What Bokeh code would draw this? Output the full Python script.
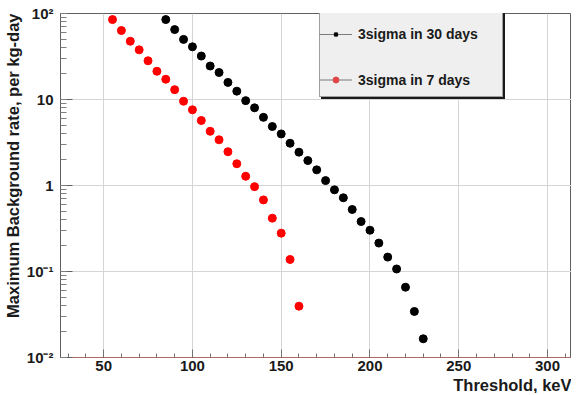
from bokeh.plotting import figure
from bokeh.models import (Range1d, SingleIntervalTicker, LogTicker, Title,
                          Legend, LegendItem, ColumnDataSource)
from bokeh.embed import file_html
from bokeh.resources import INLINE

# ---- data ----
thr_30 = [85, 90, 95, 100, 105, 110, 115, 120, 125, 130, 135, 140, 145, 150, 155,
          160, 165, 170, 175, 180, 185, 190, 195, 200, 205, 210, 215, 220, 225, 230]
rate_30 = [85, 65, 50, 41, 32, 24.5, 20.6, 15.8, 12.5, 9.7, 8.0, 6.2, 4.85, 3.98, 3.1,
           2.44, 1.95, 1.52, 1.14, 0.89, 0.72, 0.526, 0.381, 0.302, 0.214, 0.147,
           0.107, 0.0657, 0.0343, 0.0165]
thr_7 = [55, 60, 65, 70, 75, 80, 85, 90, 95, 100, 105, 110, 115, 120, 125, 130,
         135, 140, 145, 150, 155, 160]
rate_7 = [85, 63.4, 47.6, 37.8, 28.2, 21.3, 17.2, 13.0, 9.55, 7.59, 5.7, 4.27, 3.4,
          2.47, 1.79, 1.28, 0.97, 0.68, 0.417, 0.279, 0.138, 0.0395]
label_30 = "3sigma in 30 days"
label_7 = "3sigma in 7 days"
x_label = "Threshold, keV"
y_label = "Maximum Background rate, per kg-day"
y_tick_labels = {0.01: "10\u207b\u00b2", 0.1: "10\u207b\u00b9", 1.0: "1", 10.0: "10", 100.0: "10\u00b2"}

FONT = "Liberation Sans"
FW, FH = 511, 344

p = figure(output_backend="svg", toolbar_location=None,
           frame_width=FW, frame_height=FH,
           min_border_left=54, min_border_top=13, min_border_right=0, min_border_bottom=0,
           x_range=Range1d(25.7, 313.5), y_range=Range1d(0.01, 100),
           y_axis_type="log")
p.extra_x_ranges = {"offscreen": Range1d(1e6, 2e6)}
p.background_fill_color = "white"
p.border_fill_color = "white"
p.outline_line_color = "#606060"
p.outline_line_width = 1

p.xgrid.grid_line_color = "#d4d4d4"
p.ygrid.grid_line_color = "#d4d4d4"

# x axis
xa = p.xaxis[0]
xa.ticker = SingleIntervalTicker(interval=50, num_minor_ticks=5)
xa.axis_line_color = "#b06868"
xa.major_tick_in = 8
xa.major_tick_out = 0
xa.minor_tick_in = 4
xa.minor_tick_out = 0
xa.major_tick_line_color = "#707070"
xa.minor_tick_line_color = "#707070"
xa.major_label_standoff = 3
xa.major_label_text_font = FONT
xa.major_label_text_font_style = "bold"
xa.major_label_text_font_size = "15px"
xa.major_label_text_color = "#1a1a1a"

xt = Title(text=x_label, align="right", text_font=FONT, text_font_style="bold",
           text_font_size="16.5px", text_color="#1a1a1a", standoff=0, offset=0)
p.add_layout(xt, "below")

# y axis
ya = p.yaxis[0]
ya.ticker = LogTicker(num_minor_ticks=10)
ya.axis_line_color = "#606060"
ya.major_tick_in = 12
ya.major_tick_out = 0
ya.minor_tick_in = 6
ya.minor_tick_out = 0
ya.major_tick_line_color = "#606060"
ya.minor_tick_line_color = "#808080"
ya.major_label_standoff = 7
ya.major_label_overrides = y_tick_labels
ya.major_label_text_font = FONT
ya.major_label_text_font_style = "bold"
ya.major_label_text_font_size = "15px"
ya.major_label_text_color = "#1a1a1a"

yt = Title(text=y_label, align="right", text_font=FONT, text_font_style="bold",
           text_font_size="16.5px", text_color="#1a1a1a", standoff=3, offset=0)
p.add_layout(yt, "left")

# data points
p.scatter(thr_30, rate_30, size=8, color="black", line_color="black")
p.scatter(thr_7, rate_7, size=8, color="#ff0000", line_color="#ff0000")

# legend-only renderers: same data, mapped to an x range far off the visible frame
src30 = ColumnDataSource(dict(x=thr_30, y=rate_30))
src7 = ColumnDataSource(dict(x=thr_7, y=rate_7))
l30 = p.line(x="x", y="y", source=src30, x_range_name="offscreen",
             line_color="#7a7a7a", line_width=1)
m30 = p.scatter(x="x", y="y", source=src30, x_range_name="offscreen",
                marker="square", color="black")
l7 = p.line(x="x", y="y", source=src7, x_range_name="offscreen",
            line_color="#7a7a7a", line_width=1)
m7 = p.scatter(x="x", y="y", source=src7, x_range_name="offscreen",
               color="#e04848", line_color="#e04848")
blank = p.line(x="x", y="y", source=src7, x_range_name="offscreen", line_alpha=0)

PAD, ROW, GAP, GW = 6, 29, 14, 33
LH = 2 * PAD + 2 * ROW + GAP
LX = 259

common = dict(orientation="vertical", padding=PAD, spacing=GAP, glyph_width=GW,
              label_height=ROW, label_width=131, label_standoff=6, margin=0,
              label_text_font=FONT, label_text_font_style="bold",
              label_text_font_size="14px", label_text_color="#1a1a1a")

def box_legend(loc, fill, border):
    items = [LegendItem(label=" ", renderers=[blank]), LegendItem(label=" ", renderers=[blank])]
    return Legend(items=items, location=loc, background_fill_color=fill,
                  background_fill_alpha=1.0, border_line_color=border,
                  border_line_width=1, glyph_height=ROW, **common)

# shadow, then box
p.add_layout(box_legend((LX + 2, FH - LH - 2), "#1a1a1a", "#1a1a1a"), "center")
p.add_layout(box_legend((LX, FH - LH), "#efefef", "#505050"), "center")

# entries (transparent), each with its own marker size (marker = 0.4 * glyph_height)
e30 = Legend(items=[LegendItem(label=label_30, renderers=[l30, m30])],
             location=(LX, FH - (2 * PAD + ROW) + 6), background_fill_alpha=0,
             border_line_color=None, glyph_height=8, **common)
e7 = Legend(items=[LegendItem(label=label_7, renderers=[l7, m7])],
            location=(LX, FH - LH + 3), background_fill_alpha=0,
            border_line_color=None, glyph_height=15, **common)
p.add_layout(e30, "center")
p.add_layout(e7, "center")

open("out.html", "w").write(file_html(p, INLINE))
